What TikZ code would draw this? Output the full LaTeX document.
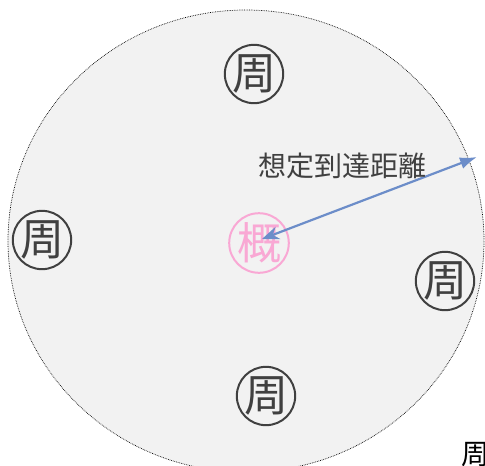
\documentclass[tikz,border=0pt]{standalone}
\usepackage{fontspec}
\newfontfamily\jpfont{Noto Sans CJK JP}
\usetikzlibrary{arrows.meta}
\definecolor{ringgray}{HTML}{404040}
\definecolor{zonefill}{HTML}{F2F2F2}
\definecolor{gaipink}{HTML}{F9A8D4}
\definecolor{reachblue}{HTML}{6C8DC9}

\begin{document}
\begin{tikzpicture}[x=1pt, y=-1pt,
        shu/.style={draw=ringgray, circle, line width=2pt, inner sep=0pt, minimum size=57pt, text=ringgray, font=\jpfont\fontsize{44}{44}\selectfont},
        gai/.style={shu, draw=gaipink, text=gaipink}]
        \useasboundingbox (0,0) rectangle (485,466);
        \clip (0,0) rectangle (485,466);
        \draw[fill=zonefill, densely dotted, line width=0.7pt] (246,241) ellipse [x radius=238, y radius=231];
        \node[shu] (s1) at (254,74) {周};
        \node[shu] (s2) at (42,240) {周};
        \node[shu] (s3) at (445,281) {周};
        \node[shu] (s4) at (266,396) {周};
        \node[gai] (g1) at (259,243) {概};
        \coordinate (edge) at (477,157);
        \coordinate (hub) at (262,239);
        \draw[reachblue, line width=2.2pt, {Stealth[length=17pt,width=13pt]}-{Latex[length=17pt,width=12pt]}] (hub) -- (edge);
        \node[text=ringgray, font=\jpfont\fontsize{28}{28}\selectfont] (reach) at (342,166) {想定到達距離};
        \node[text=black, font=\jpfont\fontsize{28}{28}\selectfont] (lone) at (475,455) {周};
    \end{tikzpicture}
\end{document}
